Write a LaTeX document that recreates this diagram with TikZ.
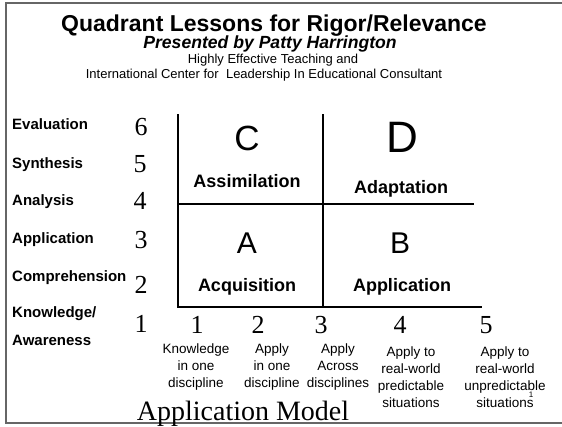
\documentclass[tikz,border=0pt]{standalone}
\usepackage{fontspec}
\setmainfont{Liberation Sans}
\newfontfamily\numfont{Liberation Serif}
\usetikzlibrary{positioning}

\begin{document}
\begin{tikzpicture}[x=1pt, y=-1pt,
		txt/.style={inner sep=0pt, anchor=base},
		level/.style={inner sep=0pt, anchor=base west, font=\fontsize{15}{18}\selectfont\bfseries},
		num/.style={txt, font=\fontsize{26}{30}\selectfont\numfont},
		desc/.style={inner sep=0pt, anchor=base, align=center, font=\fontsize{13.5}{16.7}\selectfont},
		quad/.style={txt, font=\fontsize{18}{21}\selectfont\bfseries},
		axis/.style={line width=2.2pt, black},
		frame/.style={line width=1.8pt, black!60}]
		\useasboundingbox (0,0) rectangle (562,426);
		% frame
		\coordinate (ftl) at (6,3);
		\coordinate (ftr) at (562,3);
		\coordinate (fbl) at (6,423);
		\coordinate (fbr) at (562,423);
		\draw [frame] (ftr) -- (ftl) -- (fbl) -- (fbr);
		% heading
		\node (title) [txt, font=\fontsize{23}{27}\selectfont\bfseries] at (274,31) {Quadrant Lessons for Rigor/Relevance};
		\node (author) [txt, font=\fontsize{17.6}{21}\selectfont\bfseries\itshape] at (270,48.5) {Presented by Patty Harrington};
		\node (org1) [txt, font=\fontsize{13}{15}\selectfont] at (273,63.5) {Highly Effective Teaching and};
		\node (org2) [txt, font=\fontsize{13}{15}\selectfont] at (264,78.5) {International Center for~ Leadership In Educational Consultant};
		% rigor levels
		\node (lev6) [level] at (12,129) {Evaluation};
		\node (lev5) [level] at (12,168) {Synthesis};
		\node (lev4) [level] at (12,205) {Analysis};
		\node (lev3) [level] at (12,243) {Application};
		\node (lev2) [level] at (12,281) {Comprehension};
		\node (lev1) [level] at (12,317) {Knowledge/};
		\node (lev1b) [level] at (12,345) {Awareness};
		\node (r6) [num] at (141,135) {6};
		\node (r5) [num] at (140,172) {5};
		\node (r4) [num] at (140,209) {4};
		\node (r3) [num] at (141,248) {3};
		\node (r2) [num] at (141,293) {2};
		\node (r1) [num] at (141,332) {1};
		% quadrant grid
		\coordinate (o) at (178,307);
		\coordinate (ytop) at (178,114);
		\coordinate (xend) at (482,307);
		\coordinate (mbot) at (323,307);
		\coordinate (mtop) at (323,114);
		\coordinate (hl) at (178,204);
		\coordinate (hr) at (474,204);
		\draw [axis] (ytop) -- (o) -- (xend);
		\draw [axis] (mtop) -- (mbot);
		\draw [axis] (hl) -- (hr);
		% quadrants
		\node (qC) [txt, font=\fontsize{35}{40}\selectfont] at (247,150) {C};
		\node (qD) [txt, font=\fontsize{44}{50}\selectfont] at (402,152) {D};
		\node (qA) [txt, font=\fontsize{30}{35}\selectfont] at (247,253) {A};
		\node (qB) [txt, font=\fontsize{30}{35}\selectfont] at (400,253) {B};
		\node (nC) [quad] at (247,187) {Assimilation};
		\node (nD) [quad] at (401,193) {Adaptation};
		\node (nA) [quad] at (247,291) {Acquisition};
		\node (nB) [quad] at (402,291) {Application};
		% application levels
		\node (a1) [num] at (197,333) {1};
		\node (a2) [num] at (258,333) {2};
		\node (a3) [num] at (321,333) {3};
		\node (a4) [num] at (400,333) {4};
		\node (a5) [num] at (486,333) {5};
		\node (d1) [desc] at (196,387) {Knowledge\\in one\\discipline};
		\node (d2) [desc] at (272,387) {Apply\\in one\\discipline};
		\node (d3) [desc] at (338,387) {Apply\\Across\\disciplines};
		\node (d4) [desc] at (411,407) {Apply to\\real-world\\predictable\\situations};
		\node (d5) [desc] at (505,407) {Apply to\\real-world\\unpredictable\\situations};
		\node (page) [txt, font=\fontsize{8}{9}\selectfont] at (531,397) {1};
		\node (model) [txt, font=\fontsize{28}{32}\selectfont\numfont] at (243,420) {Application Model};
	\end{tikzpicture}
\end{document}
